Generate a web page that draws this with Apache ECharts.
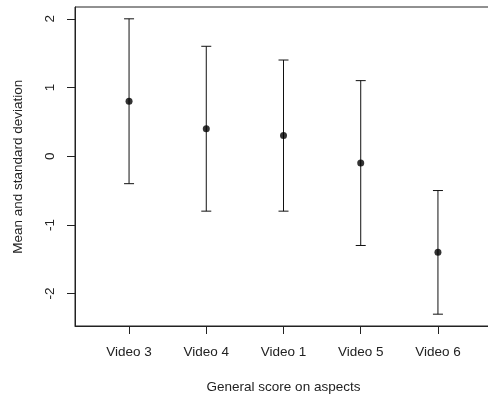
<!DOCTYPE html>
<html>
<head>
<meta charset="utf-8">
<script src="https://cdn.jsdelivr.net/npm/echarts@6/dist/echarts.min.js"></script>
<style>html,body{margin:0;padding:0;background:#fff}#c{width:488px;height:396px}</style>
</head>
<body>
<div id="c"></div>
<script>
const categories = ['Video 3', 'Video 4', 'Video 1', 'Video 5', 'Video 6'];
const means = [0.8, 0.4, 0.3, -0.1, -1.4];
const lowers = [-0.4, -0.8, -0.8, -1.3, -2.3];
const uppers = [2.0, 1.6, 1.4, 1.1, -0.5];
const yTicks = [-2, -1, 0, 1, 2];
const xTitle = 'General score on aspects';
const yTitle = 'Mean and standard deviation';

const positions = categories.map((c, i) => i + 1);
const FONT = 'Liberation Sans, Arial, sans-serif';
const chart = echarts.init(document.getElementById('c'), null, {renderer: 'canvas'});
chart.setOption({
  animation: false,
  backgroundColor: '#fff',
  grid: {left: 75, width: 417, top: 7, bottom: 70, containLabel: false, outerBoundsMode: 'none',
    show: true, borderColor: '#222', borderWidth: 1, backgroundColor: 'transparent'},
  xAxis: {
    type: 'value', min: 0.3, max: 5.7,
    splitLine: {show: false},
    axisLine: {show: true, onZero: false, lineStyle: {color: '#222'}},
    axisTick: {show: true, length: 8, inside: false, customValues: positions, lineStyle: {color: '#222'}},
    axisLabel: {show: true, margin: 19, customValues: positions, fontFamily: FONT, fontSize: 13.5, color: '#222',
      formatter: v => categories[Math.round(v) - 1] || ''}
  },
  yAxis: {
    type: 'value', min: -2.472, max: 2.172,
    splitLine: {show: false},
    axisLine: {show: true, onZero: false, lineStyle: {color: '#222'}},
    axisTick: {show: true, length: 8, customValues: yTicks, lineStyle: {color: '#222'}},
    axisLabel: {show: true, rotate: 90, margin: 18, customValues: yTicks, fontFamily: FONT, fontSize: 13.5, color: '#222'}
  },
  graphic: [
    {type: 'text', x: 283.5, y: 387, style: {text: xTitle, align: 'center', verticalAlign: 'middle', font: '13.5px ' + FONT, fill: '#222'}},
    {type: 'text', x: 18, y: 166.7, rotation: Math.PI / 2, style: {text: yTitle, align: 'center', verticalAlign: 'middle', font: '13.5px ' + FONT, fill: '#222'}}
  ],
  series: [
    {
      type: 'custom',
      data: positions.map((p, i) => [p, lowers[i], uppers[i]]),
      renderItem: function (params, api) {
        const x = api.value(0);
        const lo = api.coord([x, api.value(1)]);
        const hi = api.coord([x, api.value(2)]);
        const hw = 5;
        const st = {stroke: '#111', lineWidth: 1};
        return {type: 'group', children: [
          {type: 'line', shape: {x1: lo[0], y1: lo[1], x2: hi[0], y2: hi[1]}, style: st},
          {type: 'line', shape: {x1: lo[0] - hw, y1: lo[1], x2: lo[0] + hw, y2: lo[1]}, style: st},
          {type: 'line', shape: {x1: hi[0] - hw, y1: hi[1], x2: hi[0] + hw, y2: hi[1]}, style: st}
        ]};
      }
    },
    {
      type: 'scatter',
      data: positions.map((p, i) => [p, means[i]]),
      symbol: 'circle', symbolSize: 7,
      itemStyle: {color: '#000'}
    }
  ]
});
</script>
</body>
</html>
